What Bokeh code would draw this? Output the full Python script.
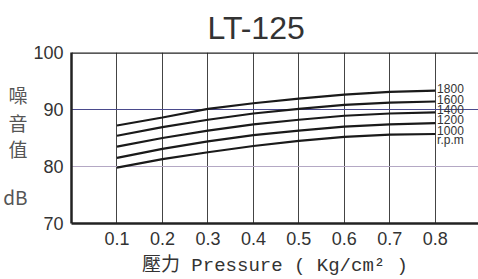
from bokeh.plotting import figure
from bokeh.models import Range1d, Span, Grid, FixedTicker, LinearAxis
from bokeh.core.properties import value
from bokeh.embed import file_html
from bokeh.resources import INLINE

pressure = [0.1, 0.2, 0.3, 0.4, 0.5, 0.6, 0.7, 0.8]
rpm_labels = ["1800", "1600", "1400", "1200", "1000"]
noise_1800 = [87.2, 88.6, 90.1, 91.1, 91.9, 92.6, 93.1, 93.3]
noise_1600 = [85.4, 86.9, 88.2, 89.3, 90.1, 90.8, 91.2, 91.4]
noise_1400 = [83.5, 85.0, 86.3, 87.4, 88.2, 88.9, 89.3, 89.5]
noise_1200 = [81.5, 83.1, 84.4, 85.5, 86.3, 87.0, 87.4, 87.6]
noise_1000 = [79.8, 81.3, 82.5, 83.6, 84.5, 85.2, 85.6, 85.7]
series = [noise_1800, noise_1600, noise_1400, noise_1200, noise_1000]
label_texts = ["1800", "1600", "1400", "1200", "1000", "r.p.m"]
label_y = [93.7, 91.8, 90.0, 88.2, 86.4, 84.7]
x_ticks = [0.1, 0.2, 0.3, 0.4, 0.5, 0.6, 0.7, 0.8]
y_ticks = [70, 80, 90, 100]
ylabel_chars = ["噪", "音", "值", "dB"]
ylabel_pos = [92.7, 87.8, 83.1, 74.8]

NARROW = "Liberation Sans Narrow, Liberation Sans, sans-serif"

p = figure(width=478, height=279, output_backend="svg", toolbar_location=None,
           x_range=Range1d(0, 0.895), y_range=Range1d(70, 100),
           min_border_left=70, min_border_right=0, min_border_top=52, min_border_bottom=55)
p.outline_line_color = None
p.background_fill_color = "white"
p.border_fill_color = "white"

# title
p.title.text = "LT-125"
p.title.text_font = "Liberation Sans"
p.title.text_font_size = "32px"
p.title.text_font_style = "normal"
p.title.text_color = "#333333"
p.title.align = "left"
p.title.offset = 136
p.title.standoff = 13

# axes
p.xaxis.ticker = FixedTicker(ticks=x_ticks)
p.yaxis.ticker = FixedTicker(ticks=y_ticks)
for ax in (p.xaxis, p.yaxis):
    ax.axis_line_width = 2.5
    ax.axis_line_color = "#222222"
    ax.major_tick_line_color = None
    ax.minor_tick_line_color = None
    ax.major_tick_out = 0
    ax.major_tick_in = 0
    ax.minor_tick_out = 0
    ax.major_label_text_font = NARROW
    ax.major_label_text_font_size = "18px"
    ax.major_label_text_color = "#333333"
p.xaxis.major_label_standoff = 8
p.yaxis.major_label_standoff = 8
p.xaxis.axis_label = "壓力 Pressure ( Kg/cm² )"
p.xaxis.axis_label_text_font = "Liberation Mono, Noto Sans CJK TC"
p.xaxis.axis_label_text_font_style = "normal"
p.xaxis.axis_label_text_font_size = "19px"
p.xaxis.axis_label_text_color = "#333333"
p.xaxis.axis_label_standoff = 7

# stacked y-axis title drawn as an extra, line-less axis
yl_axis = LinearAxis(ticker=FixedTicker(ticks=ylabel_pos),
                     major_label_overrides={v: c for v, c in zip(ylabel_pos, ylabel_chars)},
                     axis_line_color=None, major_tick_line_color=None, minor_tick_line_color=None,
                     major_tick_out=0, major_tick_in=0, minor_tick_out=0,
                     major_label_text_font="Noto Sans CJK TC, Liberation Sans Narrow",
                     major_label_text_font_size="19px", major_label_text_color="#555555",
                     major_label_standoff=3)
p.add_layout(yl_axis, "left")

# grids
p.xgrid.grid_line_color = "#444444"
p.xgrid.grid_line_width = 1
p.ygrid.grid_line_color = None
p.add_layout(Grid(dimension=1, ticker=FixedTicker(ticks=[90]), grid_line_color="#4a4a8c", grid_line_width=1))
p.add_layout(Grid(dimension=1, ticker=FixedTicker(ticks=[80]), grid_line_color="#b4a8c4", grid_line_width=1))
p.add_layout(Span(location=100, dimension="width", line_color="#222222", line_width=2.5))

# curves
for s in series:
    p.line(pressure, s, line_color="#1a1a1a", line_width=2.2)

p.text(x=[0.804] * len(label_texts), y=label_y, text=label_texts,
       text_font=value(NARROW), text_font_size="12px", text_color="#333333",
       text_baseline="middle", text_align="left", text_line_height=1.0)

open("out.html", "w").write(file_html(p, INLINE))
